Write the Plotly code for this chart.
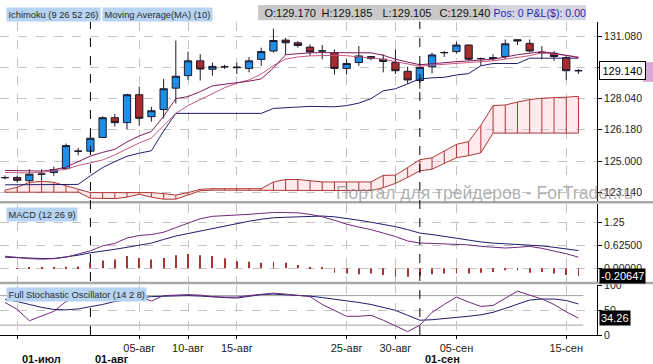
import plotly.graph_objects as go

FONT = "Liberation Sans, Arial, sans-serif"
W, H = 653, 364
ML, MR, MT, MB = 0, 56, 0, 29
PW, PH = W - ML - MR, H - MT - MB


def px(x):
    return x / PW


def py(y):
    return (PH - y) / PH


# ---------------- data ----------------
idx = list(range(48))

open_ = [124.19, 124.20, 124.04, 124.36, 124.44, 124.63, 125.48, 125.48, 126.15, 127.11,
         126.87, 128.23, 127.16, 127.51, 128.55, 129.16, 129.88, 129.47, 129.59, 129.58,
         129.51, 129.95, 130.36, 130.89, 130.76, 130.55, 130.36, 130.28, 129.51, 129.80,
         130.09, 129.96, 129.80, 129.37, 128.92, 129.59, 130.28, 130.33, 130.65, 129.99,
         130.04, 130.09, 130.91, 130.73, 130.28, 130.25, 130.04, 129.40]
high = [124.30, 124.30, 124.60, 124.60, 124.73, 125.85, 125.64, 126.36, 127.18, 127.29,
        128.28, 128.63, 127.64, 129.00, 130.87, 130.33, 130.20, 129.80, 129.69, 129.80,
        130.07, 130.52, 131.45, 131.00, 130.84, 130.68, 130.65, 130.44, 129.96, 130.60,
        130.12, 130.20, 130.44, 129.59, 129.75, 130.28, 130.36, 130.81, 130.68, 130.04,
        130.20, 130.92, 130.92, 130.92, 130.60, 130.36, 130.12, 129.48]
low = [124.10, 123.94, 123.88, 124.04, 124.28, 124.59, 125.27, 125.32, 126.12, 126.68,
       126.55, 126.71, 126.92, 127.08, 127.80, 128.95, 128.92, 129.16, 129.48, 129.24,
       129.32, 129.64, 130.28, 130.17, 130.52, 130.12, 129.96, 129.21, 129.21, 129.64,
       129.91, 129.32, 129.24, 128.76, 128.52, 129.27, 130.07, 130.23, 129.88, 129.64,
       129.88, 129.96, 130.65, 130.28, 129.96, 129.88, 128.95, 129.24]
close = [124.19, 124.06, 124.36, 124.36, 124.57, 125.75, 125.48, 126.11, 127.11, 126.87,
         128.23, 127.08, 127.45, 128.52, 129.13, 129.88, 129.48, 129.61, 129.59, 129.55,
         129.88, 130.33, 130.87, 130.76, 130.63, 130.31, 130.36, 129.51, 129.75, 130.12,
         129.99, 129.85, 129.40, 128.95, 129.56, 130.17, 130.28, 130.65, 129.96, 129.99,
         130.00, 130.71, 130.85, 130.36, 130.28, 130.09, 129.40, 129.40]

tenkan = [124.54, 124.52, 124.52, 124.51, 124.58, 124.70, 124.97, 125.24, 125.42, 125.57,
          125.93, 126.22, 126.44, 127.18, 128.04, 128.14, 128.38, 128.66, 128.74, 128.81,
          128.89, 129.00, 129.53, 130.18, 130.23, 130.27, 130.28, 130.28, 130.28, 130.28,
          130.27, 130.15, 129.96, 129.82, 129.69, 129.74, 129.80, 129.84, 129.88, 129.91,
          129.96, 130.06, 130.18, 130.25, 130.33, 130.25, 130.15, 130.04]
ma10 = [124.44, 124.42, 124.42, 124.44, 124.51, 124.60, 124.78, 124.92, 125.05, 125.30,
        125.59, 125.88, 126.12, 126.74, 127.32, 127.70, 127.99, 128.30, 128.57, 128.79,
        128.95, 129.24, 129.65, 129.96, 130.07, 130.12, 130.15, 130.15, 130.13, 130.08,
        130.04, 129.96, 129.84, 129.72, 129.62, 129.67, 129.72, 129.77, 129.79, 129.84,
        129.88, 129.96, 130.06, 130.13, 130.27, 130.22, 130.15, 130.07]
kijun = [123.84, 123.84, 123.84, 123.84, 123.84, 123.84, 123.86, 124.28, 124.68, 124.97,
         125.23, 125.38, 125.50, 126.46, 127.32, 127.32, 127.32, 127.32, 127.32, 127.32,
         127.32, 127.32, 127.56, 127.61, 127.63, 127.66, 127.66, 127.64, 127.70, 127.82,
         128.04, 128.42, 128.52, 128.76, 129.00, 129.05, 129.08, 129.19, 129.26, 129.64,
         129.75, 129.75, 129.75, 130.01, 130.01, 130.01, 130.01, 130.01]
senkou_a = [123.58, 123.72, 123.96, 124.01, 123.96, 123.79, 123.60, 123.46, 123.46, 123.46,
            123.48, 123.48, 123.46, 123.41, 123.34, 123.46, 123.62, 123.65, 123.65, 123.65,
            123.65, 123.65, 123.98, 124.10, 124.10, 124.03, 123.98, 123.98, 123.98, 123.98,
            123.98, 124.30, 124.31, 124.68, 125.06, 125.16, 125.50, 125.81, 125.95, 126.74,
            127.70, 127.73, 127.87, 127.99, 128.06, 128.07, 128.11, 128.15]
senkou_b = [123.48, 123.48, 123.48, 123.48, 123.48, 123.48, 123.48, 123.19, 123.17, 123.17,
            123.24, 123.38, 123.24, 123.14, 123.14, 123.34, 123.55, 123.58, 123.58, 123.58,
            123.58, 123.58, 123.56, 123.56, 123.56, 123.56, 123.56, 123.56, 123.56, 123.56,
            123.56, 123.70, 123.91, 124.20, 124.52, 124.60, 124.90, 125.16, 125.26, 125.40,
            126.36, 126.36, 126.36, 126.36, 126.36, 126.36, 126.36, 126.36]

macd = [0.327, 0.287, 0.261, 0.247, 0.261, 0.301, 0.380, 0.473, 0.606, 0.673,
        0.819, 0.886, 0.912, 0.974, 1.099, 1.213, 1.338, 1.404, 1.418, 1.431,
        1.458, 1.484, 1.506, 1.506, 1.498, 1.458, 1.391, 1.298, 1.192, 1.112,
        1.045, 0.952, 0.859, 0.739, 0.681, 0.673, 0.665, 0.654, 0.633, 0.593,
        0.567, 0.548, 0.567, 0.593, 0.540, 0.473, 0.394, 0.301]
signal = [0.301, 0.287, 0.274, 0.266, 0.266, 0.301, 0.354, 0.420, 0.460, 0.513,
          0.567, 0.620, 0.681, 0.779, 0.872, 0.939, 1.005, 1.072, 1.138, 1.218,
          1.271, 1.325, 1.365, 1.378, 1.391, 1.404, 1.412, 1.391, 1.351, 1.298,
          1.245, 1.192, 1.125, 1.045, 0.952, 0.912, 0.859, 0.814, 0.766, 0.713,
          0.681, 0.660, 0.646, 0.638, 0.606, 0.567, 0.527, 0.479]
hist = [0.00, -0.01, 0.01, 0.01, 0.02, 0.04, 0.05, 0.15, 0.21, 0.24,
        0.33, 0.28, 0.24, 0.28, 0.35, 0.39, 0.35, 0.33, 0.27, 0.19,
        0.18, 0.15, 0.18, 0.15, 0.09, 0.02, 0.01, -0.12, -0.14, -0.16,
        -0.14, -0.18, -0.23, -0.23, -0.20, -0.16, -0.14, -0.14, -0.14, -0.12,
        -0.10, -0.05, -0.05, -0.12, -0.10, -0.14, -0.18, -0.20647]

stoch_k = [66, 52, 29, 38, 48, 68, 76, 80, 82, 84,
           82, 78, 69, 80, 81, 82, 81, 78, 77, 77,
           80, 83, 85, 83, 81, 78, 62, 50, 38, 38,
           40, 30, 18, 7, 20, 46, 62, 77, 67, 58,
           60, 74, 89, 81, 73, 62, 47, 34.26]
stoch_d = [72, 68, 62, 56, 52, 51, 53, 57, 62, 68,
           72, 75, 78, 79, 80, 80, 79, 77, 76, 75,
           78, 82, 83, 82, 80, 79, 76, 73, 70, 66,
           62, 56, 50, 40, 30, 31, 33, 35, 38, 41,
           46, 54, 63, 71, 73, 73, 70, 63]
stoch_levels = [20, 80]

price_ticks = [131.08, 129.56, 128.04, 126.52, 125.00, 123.48]
price_ticktext = ["131.080", "129.560", "128.040", "126.180", "125.000", "123.140"]
macd_ticks = [0, 0.625, 1.25]
macd_ticktext = ["0.00000", "0.62500", "1.25"]
stoch_ticks = [0, 50, 100]
stoch_ticktext = ["0", "50", "100"]

date_idx = [1, 11, 15, 19, 28, 32, 37, 46]
date_labels = ["25-июл", "05-авг", "10-авг", "15-авг", "25-авг", "30-авг", "05-сен", "15-сен"]
month_idx = [1, 7, 34]
month_labels = ["01-июл", "01-авг", "01-сен"]

header_items = ["O:129.170", "H:129.185", "L:129.105", "C:129.140"]
header_pos = "Pos: 0 P&L($): 0.00"
last_price_label = "129.140"

# ---------------- colours ----------------
BLUE = "#1E8FE6"
RED = "#A82C2C"
OUT = "#1A1A2A"
TENKAN = "#7E1C5C"
MA = "#C9587E"
KIJUN = "#1E1E70"
CLOUD = "#B03636"
PURPLE = "#6E2A78"
NAVY = "#1E1E70"
GRID = "#C4C4C4"

fig = go.Figure()

# Ichimoku cloud
fig.add_trace(go.Scatter(x=idx, y=senkou_b, mode="lines", line=dict(color=CLOUD, width=1),
                         xaxis="x", yaxis="y", hoverinfo="skip"))
fig.add_trace(go.Scatter(x=idx, y=senkou_a, mode="lines", line=dict(color=CLOUD, width=1),
                         fill="tonexty", fillcolor="rgba(255,190,195,0.30)",
                         xaxis="x", yaxis="y", hoverinfo="skip"))
hx, hy = [], []
for i, a, b in zip(idx, senkou_a, senkou_b):
    hx += [i, i, None]
    hy += [b, a, None]
fig.add_trace(go.Scatter(x=hx, y=hy, mode="lines", line=dict(color=CLOUD, width=1),
                         xaxis="x", yaxis="y", hoverinfo="skip"))

# candles
fig.add_trace(go.Candlestick(
    x=idx, open=open_, high=high, low=low, close=close,
    increasing=dict(fillcolor=BLUE, line=dict(color=OUT, width=1)),
    decreasing=dict(fillcolor=RED, line=dict(color=OUT, width=1)),
    whiskerwidth=0, xaxis="x", yaxis="y", hoverinfo="skip"))

# lines
fig.add_trace(go.Scatter(x=idx, y=kijun, mode="lines", line=dict(color=KIJUN, width=1),
                         xaxis="x", yaxis="y"))
fig.add_trace(go.Scatter(x=idx, y=ma10, mode="lines", line=dict(color=MA, width=1),
                         xaxis="x", yaxis="y"))
fig.add_trace(go.Scatter(x=idx, y=tenkan, mode="lines", line=dict(color=TENKAN, width=1),
                         xaxis="x", yaxis="y"))

# MACD
fig.add_trace(go.Bar(x=idx, y=hist, width=0.07, marker=dict(color="#A83434", line=dict(width=0)),
                     xaxis="x2", yaxis="y2"))
fig.add_trace(go.Scatter(x=idx, y=signal, mode="lines", line=dict(color=NAVY, width=1),
                         xaxis="x2", yaxis="y2"))
fig.add_trace(go.Scatter(x=idx, y=macd, mode="lines", line=dict(color=PURPLE, width=1),
                         xaxis="x2", yaxis="y2"))

# Stochastic
fig.add_trace(go.Scatter(x=idx, y=stoch_d, mode="lines", line=dict(color=NAVY, width=1),
                         xaxis="x3", yaxis="y3"))
fig.add_trace(go.Scatter(x=idx, y=stoch_k, mode="lines", line=dict(color=PURPLE, width=1),
                         xaxis="x3", yaxis="y3"))

XR = [-0.41, 48.52]
xcommon = dict(range=XR, tickvals=date_idx, showgrid=True, gridcolor=GRID, griddash="dash",
               gridwidth=1, zeroline=False, fixedrange=True)
tickfont = dict(size=10.5, color="#222", family=FONT)
ycommon = dict(side="right", showgrid=True, gridcolor=GRID, griddash="dash", zeroline=False,
               ticks="outside", ticklen=4, tickcolor="#000", showline=True, linecolor="#000",
               linewidth=1, tickfont=tickfont, fixedrange=True)

shapes = []
# panel separators
for top in (199, 281):
    shapes.append(dict(type="rect", xref="paper", yref="paper", x0=0, x1=W / PW,
                       y0=py(top + 2.5), y1=py(top), fillcolor="#A9A9A9", line=dict(width=0),
                       layer="above"))
# month boundaries
for m in month_idx[1:]:
    shapes.append(dict(type="line", xref="x", yref="paper", x0=m, x1=m, y0=py(PH), y1=py(17),
                       line=dict(color="#000", width=1, dash="dash"), layer="above"))
# stochastic levels
for lv in stoch_levels:
    shapes.append(dict(type="line", xref="x3", yref="y3", x0=XR[0], x1=idx[-1] + 0.4, y0=lv, y1=lv,
                       line=dict(color="#A0A0A0", width=1), layer="below"))
# pink marker at right edge
shapes.append(dict(type="rect", xref="paper", yref="paper", x0=px(643), x1=px(653),
                   y0=py(78), y1=py(58), fillcolor="#D9A6D6", line=dict(width=0)))
# gray header box behind O/H/L/C
shapes.append(dict(type="rect", xref="paper", yref="paper", x0=px(258), x1=px(490),
                   y0=py(15.5), y1=py(0), fillcolor="#C9C9C9", line=dict(width=0), layer="above"))
shapes.append(dict(type="rect", xref="paper", yref="paper", x0=px(490), x1=px(586),
                   y0=py(15.5), y1=py(0), fillcolor="#D3D6E2", line=dict(width=0), layer="above"))

LBL_BG = "#B6D3F2"
ann = []


def label(x, y, text, bg, color="#2A2A2A", size=9.3, border=None):
    d = dict(xref="paper", yref="paper", x=px(x), y=py(y), xanchor="left", yanchor="middle",
             text=text, showarrow=False, bgcolor=bg,
             font=dict(size=size, color=color, family=FONT), borderpad=1.5)
    if border:
        d.update(bordercolor=border, borderwidth=1)
    return d


ann.append(label(6, 9.5, "Ichimoku (9 26 52 26)", LBL_BG))
ann.append(label(102, 9.5, "Moving Average(MA) (10)", LBL_BG))
for hx_pos, item in zip([262, 319, 380, 437], header_items):
    ann.append(label(hx_pos, 7.5, item, "rgba(0,0,0,0)", color="#111", size=11))
ann.append(label(491, 7.5, header_pos, "rgba(0,0,0,0)", color="#2626B8", size=10.6))
ann.append(label(6, 213, "MACD (12 26 9)", LBL_BG))
ann.append(label(6, 294, "Full Stochastic Oscillator (14 2 8)", LBL_BG))

# watermark
ann.append(dict(xref="paper", yref="paper", x=px(334), y=py(191), xanchor="left", yanchor="middle",
                text="Портал для трейдеров - ForTrader.ru", showarrow=False,
                font=dict(size=17.5, color="rgba(150,150,150,0.75)", family=FONT)))

# last-value boxes
ann.append(dict(xref="paper", yref="y", x=px(599), y=close[-1], xanchor="left", yanchor="middle",
                text=last_price_label, showarrow=False, bgcolor="#FFFFFF", bordercolor="#000",
                borderwidth=1, borderpad=2.5, font=dict(size=11, color="#000", family=FONT)))
ann.append(dict(xref="paper", yref="y2", x=px(599), y=hist[-1], xanchor="left", yanchor="middle",
                text="%.5f" % hist[-1], showarrow=False, bgcolor="#000000", borderpad=1,
                font=dict(size=11, color="#FFFFFF", family=FONT)))
ann.append(dict(xref="paper", yref="y3", x=px(599), y=stoch_k[-1], xanchor="left", yanchor="middle",
                text="%.2f" % stoch_k[-1], showarrow=False, bgcolor="#000000", borderpad=1,
                font=dict(size=11, color="#FFFFFF", family=FONT)))

# month labels (second row)
for m, t in zip(month_idx, month_labels):
    ann.append(dict(xref="x3", yref="paper", x=m, y=py(359), xanchor="left", yanchor="middle",
                    xshift=3, text="<b>%s</b>" % t, showarrow=False,
                    font=dict(size=11, color="#111", family=FONT)))

fig.update_layout(
    width=W, height=H, margin=dict(l=ML, r=MR, t=MT, b=MB), showlegend=False,
    paper_bgcolor="#FFFFFF", plot_bgcolor="#FFFFFF", boxgap=0.15,
    font=dict(family=FONT, size=11, color="#222"),
    xaxis=dict(**xcommon, anchor="y", showticklabels=False, rangeslider=dict(visible=False)),
    xaxis2=dict(**xcommon, anchor="y2", showticklabels=False),
    xaxis3=dict(**xcommon, anchor="y3", ticktext=date_labels, ticks="outside", ticklen=3,
                tickcolor="#000", showline=True, linecolor="#000", linewidth=1,
                tickfont=dict(size=11, color="#222", family=FONT)),
    yaxis=dict(**ycommon, anchor="x", domain=[py(199), py(17)], range=[123.05, 131.785],
               tickvals=price_ticks, ticktext=price_ticktext),
    yaxis2=dict(**ycommon, anchor="x2", domain=[py(281), py(202)], range=[-0.364, 1.737],
                tickvals=macd_ticks, ticktext=macd_ticktext),
    yaxis3=dict(**ycommon, anchor="x3", domain=[0, py(284)], range=[0, 102],
                tickvals=stoch_ticks, ticktext=stoch_ticktext),
    shapes=shapes, annotations=ann,
)

fig.write_html("out.html")
